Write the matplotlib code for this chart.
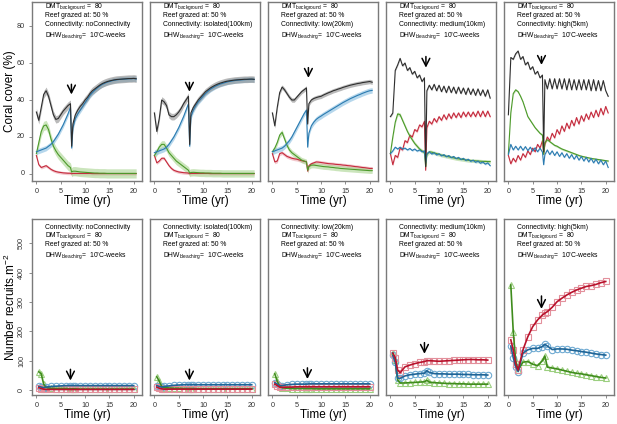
import matplotlib
matplotlib.use("Agg")
import matplotlib.pyplot as plt

plt.rcParams['font.family'] = ['Liberation Sans', 'DejaVu Sans']
plt.rcParams['mathtext.default'] = 'regular'

# time steps (yr) of the coral cover runs
t_top = [0, 0.5, 1, 1.5, 2, 2.5, 3, 3.5, 4, 4.5, 5, 5.5, 6, 6.5, 7, 7.25, 7.5,
         8, 8.5, 9, 9.5, 10, 10.5, 11, 11.5, 12, 12.5, 13, 13.5, 14, 14.5,
         15, 15.5, 16, 16.5, 17, 17.5, 18, 18.5, 19, 19.5, 20, 20.5]

# time steps (yr) of the recruit counts
t_bot = [0.5, 1, 1.5, 2, 3, 4, 5, 6, 7, 7.5, 8, 9, 10, 11, 12, 13, 14, 15,
         16, 17, 18, 19, 20]

connectivity = ['noConnectivity', 'isolated(100km)', 'low(20km)',
                'medium(10km)', 'high(5km)']

# ---- coral cover (%) : total, blue, green, red ----
p1_total = [33.5, 29, 36, 43, 45, 42, 37, 32, 29.5, 30, 32, 34, 35.5, 37, 38, 15, 27,
            32, 34.5, 36.5, 38, 40, 41.5, 43.5, 45, 46, 47, 48, 48.8, 49.4, 49.9,
            50.3, 50.6, 50.9, 51.1, 51.2, 51.3, 51.4, 51.5, 51.6, 51.6, 51.7, 51.5]
p1_blue = [12, 12.5, 13, 13.5, 14, 15, 16, 17.5, 19.5, 21.5, 24, 26.5, 29.5, 32.5, 36, 14, 25,
           30, 32.5, 34.5, 36.5, 38.5, 40.5, 42.5, 44, 45.3, 46.5, 47.5, 48.4, 49, 49.6,
           50, 50.4, 50.7, 50.9, 51.1, 51.2, 51.3, 51.4, 51.5, 51.5, 51.6, 51.4]
p1_green = [11, 17, 23, 26, 26.5, 24, 19, 15, 12.5, 10.5, 9, 7.5, 6, 4.5, 3.5, 1, 1.5,
            1.5, 1.3, 1.1, 1, 0.9, 0.8, 0.7, 0.6, 0.5, 0.5, 0.4, 0.4, 0.4, 0.3,
            0.3, 0.3, 0.3, 0.3, 0.3, 0.3, 0.3, 0.3, 0.3, 0.3, 0.3, 0.3]
p1_red = [10, 5, 3.5, 4, 4.5, 3.5, 2.5, 1.8, 1.3, 1, 0.8, 0.6, 0.5, 0.4, 0.4, 0.1, 0.3,
          0.3, 0.3, 0.3, 0.3, 0.3, 0.3, 0.3, 0.2, 0.2, 0.2, 0.2, 0.2, 0.2, 0.2,
          0.2, 0.2, 0.2, 0.2, 0.2, 0.2, 0.2, 0.2, 0.2, 0.2, 0.2, 0.2]

p2_total = [33, 23, 30, 40, 39, 37, 32, 31, 31, 32, 33.5, 35.5, 38, 40, 42, 16, 33,
            36, 38, 40, 41.5, 43, 44.5, 45.5, 46.5, 47.3, 48, 48.6, 49.1, 49.5, 49.9,
            50.2, 50.4, 50.6, 50.8, 50.9, 51, 51.1, 51.2, 51.2, 51.3, 51.3, 51.2]
p2_blue = [11.5, 12, 12.5, 13, 13.5, 14.5, 16, 18, 20, 22.5, 25, 28, 31, 34.5, 38, 15, 31,
           34.5, 37, 39, 40.5, 42, 43.5, 44.7, 45.8, 46.6, 47.4, 48, 48.6, 49, 49.4,
           49.8, 50.1, 50.3, 50.5, 50.7, 50.8, 50.9, 51, 51.1, 51.1, 51.2, 51.1]
p2_green = [10, 12, 14.5, 16, 16, 14, 11.5, 10, 8.5, 7, 6, 5, 4, 3, 2, 0.5, 0.8,
            0.9, 0.8, 0.7, 0.6, 0.6, 0.5, 0.5, 0.5, 0.4, 0.4, 0.4, 0.4, 0.3, 0.3,
            0.3, 0.3, 0.3, 0.3, 0.3, 0.3, 0.3, 0.3, 0.3, 0.3, 0.3, 0.3]
p2_red = [10, 6, 7, 8.5, 8.5, 6.5, 4.5, 3, 2, 1.5, 1.1, 0.9, 0.7, 0.6, 0.5, 0.1, 0.3,
          0.3, 0.3, 0.3, 0.3, 0.3, 0.3, 0.3, 0.2, 0.2, 0.2, 0.2, 0.2, 0.2, 0.2,
          0.2, 0.2, 0.2, 0.2, 0.2, 0.2, 0.2, 0.2, 0.2, 0.2, 0.2, 0.2]

p3_total = [33, 26, 36, 44, 47, 45.5, 43.5, 41.5, 40, 40, 41.5, 43, 44.5, 45.5, 46.5, 27, 38,
            40, 40.8, 41.3, 41.7, 42, 42.7, 43.3, 43.9, 44.4, 45, 45.4, 45.9, 46.3, 46.8,
            47.2, 47.6, 48, 48.3, 48.6, 48.9, 49.1, 49.4, 49.6, 49.8, 50, 49.6]
p3_blue = [12, 12.5, 13, 13.5, 14, 15, 16.5, 18, 20, 22.5, 25, 27.5, 30, 32.5, 34.5, 14.5, 22,
           26, 28, 29.5, 30.5, 31.3, 32.2, 33, 33.8, 34.6, 35.4, 36.2, 37, 37.8, 38.6,
           39.3, 40, 40.7, 41.3, 41.9, 42.5, 43, 43.6, 44.1, 44.6, 45, 45.2]
p3_green = [12, 14, 17, 21, 22.5, 19, 15.5, 13, 11.5, 10.5, 9.5, 8.5, 7.5, 7, 6.5, 2, 4,
            4.8, 4.8, 4.6, 4.4, 4.2, 4, 3.9, 3.8, 3.6, 3.5, 3.3, 3.2, 3, 2.9,
            2.8, 2.7, 2.6, 2.5, 2.4, 2.3, 2.2, 2.1, 2, 1.9, 1.8, 1.8]
p3_red = [11, 6.5, 7, 11, 11.5, 10.5, 9.5, 9, 8.5, 8.2, 8, 7.6, 7.2, 6.9, 6.6, 1.5, 4.5,
          5.5, 6, 6.5, 6.4, 6.2, 6, 5.8, 5.6, 5.5, 5.4, 5.2, 5.1, 5, 4.8,
          4.7, 4.5, 4.4, 4.2, 4, 3.9, 3.7, 3.5, 3.4, 3.2, 3, 3]

p4_total = [31, 33, 56, 59, 62.5, 58.5, 60, 56, 57.5, 54, 55.5, 52, 53.5, 50, 52, 4, 45,
            48, 45.5, 48.5, 45, 48, 44.5, 47.5, 44, 47.5, 44, 47, 43.5, 47, 43.5,
            46.5, 43, 46.5, 43, 46, 42.5, 46, 42.5, 45.5, 42, 45.5, 41]
p4_blue = [11, 12.5, 14.5, 13.5, 14.5, 13.5, 14, 13, 13.8, 12.7, 13.5, 12.4, 13, 12, 12.5, 6, 11,
           12, 10.8, 11.5, 10.3, 11, 9.8, 10.5, 9.3, 10, 8.8, 9.5, 8.3, 9, 7.8,
           8.5, 7.3, 8, 6.8, 7.5, 6.3, 7, 5.8, 6.5, 5.3, 6, 4.5]
p4_green = [11, 20, 28, 32.5, 32, 29, 26, 23, 20.5, 18.5, 16.5, 15, 13.5, 12.5, 11.5, 4, 10.5,
            12, 11.8, 11.4, 11, 10.6, 10.2, 9.9, 9.6, 9.3, 9, 8.7, 8.4, 8.2, 8,
            7.8, 7.6, 7.4, 7.3, 7.2, 7.1, 7, 6.9, 6.8, 6.8, 6.7, 6.7]
p4_red = [11, 5, 10, 9, 14, 13, 18, 17, 21, 20, 24, 23, 26.5, 25.5, 28.5, 2, 25,
          28.5, 27, 30, 28, 31, 29, 32, 29.5, 32.5, 30, 33, 30.5, 33, 30.5,
          33.5, 31, 33.5, 31, 33.5, 31, 34, 31, 34, 31, 34, 31]

p5_total = [32, 63, 62, 65, 66.5, 62, 63.5, 59, 60.5, 56.5, 58, 54, 55.5, 52, 53.5, 12, 51,
            46, 51.5, 46, 51.5, 46, 51.5, 46, 51.5, 45.5, 51.5, 45.5, 51, 45.5, 51,
            45.5, 51, 45.5, 51, 45, 51, 45, 50.5, 45, 50.5, 45, 42]
p5_blue = [10.5, 16, 13, 15, 13, 15, 12.8, 14.8, 12.6, 14.5, 12.4, 14.2, 12, 14, 11.8, 5, 10.5,
           13, 10.5, 12.5, 10, 12, 9.5, 11.5, 9, 11, 8.5, 10.5, 8, 10, 7.5,
           9.5, 7, 9, 6.5, 8.5, 6, 8, 5.5, 7.5, 5, 7, 3.5]
p5_green = [11, 33, 43.5, 45.5, 44.5, 42, 39, 35, 31, 29, 27, 25, 23.5, 22, 21, 10.5, 17,
            18.5, 17.5, 16.5, 15.5, 15, 14.2, 13.5, 13, 12.5, 12, 11.5, 11, 10.5, 10,
            9.6, 9.3, 9, 8.7, 8.4, 8.2, 8, 7.8, 7.6, 7.4, 7.2, 7]
p5_red = [10, 5.5, 8.5, 6.5, 10, 7.5, 11, 9, 12.5, 10.5, 14, 12, 16, 14, 18, 11, 16,
          20, 18, 22, 19.5, 24, 21.5, 26, 23, 27.5, 24.5, 29, 26, 30.5, 27,
          31.5, 28.5, 32.5, 29.5, 33.5, 30.5, 34.5, 31, 35.5, 32, 36.5, 33]

# half-width of the shaded band, per panel: total, blue, green, red
band_sd = [[2.0, 1.5, 2.5, 0.8],
           [1.8, 1.5, 2.0, 0.8],
           [1.2, 1.5, 1.5, 1.0],
           [0.5, 0.5, 1.0, 0.8],
           [0.4, 0.4, 0.6, 0.6]]

# ---- recruits per m2 : green, blue, red ----
r1_green = [62, 55, 20, 8, 6, 5, 5, 5, 4, 4, 4, 3, 3, 3, 3, 3, 3, 3, 3, 3, 3, 3, 3]
r1_blue = [12, 10, 8, 10, 12, 13, 14, 15, 15, 15, 15, 15, 15, 15, 15, 15, 15, 15, 15, 15, 15, 15, 15]
r1_red = [8, 5, 3, 2, 2, 2, 2, 2, 2, 2, 2, 2, 2, 2, 2, 2, 2, 2, 2, 2, 2, 2, 2]

r2_green = [45, 30, 12, 8, 7, 6, 6, 5, 5, 5, 5, 4, 4, 4, 4, 4, 4, 4, 4, 4, 4, 4, 4]
r2_blue = [15, 12, 10, 12, 14, 16, 17, 18, 18, 18, 18, 18, 18, 18, 18, 18, 18, 18, 18, 18, 18, 18, 18]
r2_red = [10, 6, 4, 3, 3, 3, 3, 3, 3, 3, 3, 3, 3, 3, 3, 3, 3, 3, 3, 3, 3, 3, 3]

r3_green = [55, 30, 12, 8, 6, 5, 5, 5, 5, 5, 5, 4, 4, 4, 4, 4, 4, 4, 4, 4, 4, 4, 4]
r3_blue = [25, 20, 15, 15, 18, 19, 20, 20, 20, 21, 21, 21, 21, 21, 21, 21, 21, 21, 21, 21, 21, 21, 21]
r3_red = [20, 15, 10, 9, 10, 10, 11, 11, 11, 11, 11, 11, 11, 11, 11, 11, 11, 11, 11, 11, 11, 11, 11]

r4_green = [125, 102, 34, 24, 24, 25, 26, 27, 28, 33, 27, 25, 24, 23, 22, 22, 21, 21, 20, 20, 20, 20, 20]
r4_blue = [118, 95, 40, 40, 48, 52, 54, 56, 57, 66, 60, 56, 55, 55, 54, 54, 54, 53, 53, 52, 52, 52, 51]
r4_red = [126, 110, 68, 59, 79, 85, 90, 94, 97, 100, 100, 99, 98, 99, 100, 101, 102, 103, 104, 104, 103, 103, 102]

r5_green = [358, 199, 100, 68, 95, 97, 88, 83, 100, 116, 78, 75, 72, 68, 64, 60, 57, 55, 52, 49, 46, 43, 41]
r5_blue = [150, 110, 80, 63, 126, 137, 142, 142, 148, 156, 150, 138, 140, 140, 139, 136, 134, 131, 129, 126, 123, 121, 119]
r5_red = [171, 137, 90, 68, 137, 182, 216, 239, 256, 262, 267, 282, 301, 313, 324, 333, 341, 347, 353, 356, 360, 366, 370]

# arrows (x, tail, head) for each panel
arrows_top = [(7.2, 50, 41.5), (7.2, 51, 43), (7.4, 59, 50.5), (7.3, 65, 56), (6.8, 65, 57.5)]
arrows_bot = [(7.0, 80, 23), (7.2, 80, 23), (7.2, 85, 28), (7.0, 171, 114), (6.8, 330, 267)]

cover = [(p1_total, p1_blue, p1_green, p1_red),
         (p2_total, p2_blue, p2_green, p2_red),
         (p3_total, p3_blue, p3_green, p3_red),
         (p4_total, p4_blue, p4_green, p4_red),
         (p5_total, p5_blue, p5_green, p5_red)]
recruits = [(r1_green, r1_blue, r1_red), (r2_green, r2_blue, r2_red),
            (r3_green, r3_blue, r3_red), (r4_green, r4_blue, r4_red),
            (r5_green, r5_blue, r5_red)]

line_cols = ['#2e2e2e', '#2b7bb0', '#4c9a2a', '#c42a3c']
band_cols = ['#8c8c8c', '#86bde0', '#a9d490', '#eba3ad']
light_cols = ['#9ccf80', '#6faad2', '#e3909c']   # green, blue, red markers
dark_cols = ['#3f8c1c', '#1f6496', '#b8122c']
markers = ['^', 'o', 's']
frame_col = '#7a7a7a'

W, H = 617, 424
fig = plt.figure(figsize=(W / 100, H / 100), dpi=100)
lefts = [32, 150, 268, 386, 504]
pw = 110

dmt = r'DMT$_{background}$ =  80'
graze = 'Reef grazed at: 50 %'
dhw = r'DHW$_{bleaching}$=  10$^{\circ}$C-weeks'
fs = 4.9


def style(ax, first, rot):
    for s in ax.spines.values():
        s.set_color(frame_col)
        s.set_linewidth(1.0)
    ax.set_xticks([0, 5, 10, 15, 20])
    ax.tick_params(colors='#333333', labelsize=5.2, length=2.5, width=0.6, pad=2.5)
    ax.tick_params(axis='both', color=frame_col)
    if first:
        for lab in ax.get_yticklabels():
            lab.set_rotation(rot)
            lab.set_va('center')
    else:
        ax.set_yticks([])
    ax.set_xlabel('Time (yr)', fontsize=8.5, labelpad=0)


def arrow(ax, spec):
    x, y0, y1 = spec
    ax.annotate('', xy=(x, y1), xytext=(x, y0),
                arrowprops=dict(arrowstyle='->,head_length=0.55,head_width=0.28',
                                color='black', lw=1.1))


for i in range(5):
    # top row: coral cover
    ax = fig.add_axes([lefts[i] / W, (H - 181) / H, pw / W, 179 / H])
    series = cover[i]
    for k in [3, 2, 1, 0]:
        y = series[k]
        sd = band_sd[i][k]
        ax.fill_between(t_top, [v - sd for v in y], [v + sd for v in y],
                        color=band_cols[k], alpha=0.6, lw=0)
        ax.plot(t_top, y, color=line_cols[k], lw=0.8)
    ax.set_xlim(-0.9, 21.7)
    ax.set_ylim(-3.8, 93)
    ax.set_yticks([0, 20, 40, 60, 80])
    style(ax, i == 0, 0)
    ax.text(0.115, 0.972, dmt, transform=ax.transAxes, fontsize=fs, va='center')
    ax.text(0.115, 0.923, graze, transform=ax.transAxes, fontsize=fs, va='center')
    ax.text(0.115, 0.876, 'Connectivity: ' + connectivity[i], transform=ax.transAxes,
            fontsize=fs, va='center')
    ax.text(0.115, 0.806, dhw, transform=ax.transAxes, fontsize=fs, va='center')
    arrow(ax, arrows_top[i])

    # bottom row: recruits
    bx = fig.add_axes([lefts[i] / W, (H - 395) / H, pw / W, 176 / H])
    rs = recruits[i]
    for k in range(3):
        bx.plot(t_bot, rs[k], ls='none', marker=markers[k], mfc='none',
                mec=light_cols[k], ms=4.6, mew=0.8)
    for k in range(3):
        bx.plot(t_bot, rs[k], color=dark_cols[k], lw=1.2)
    bx.set_xlim(-0.9, 21.7)
    bx.set_ylim(-17, 583)
    bx.set_yticks([0, 100, 200, 300, 400, 500])
    style(bx, i == 0, 90)
    bx.text(0.115, 0.953, 'Connectivity: ' + connectivity[i], transform=bx.transAxes,
            fontsize=fs, va='center')
    bx.text(0.115, 0.906, dmt, transform=bx.transAxes, fontsize=fs, va='center')
    bx.text(0.115, 0.856, graze, transform=bx.transAxes, fontsize=fs, va='center')
    bx.text(0.115, 0.788, dhw, transform=bx.transAxes, fontsize=fs, va='center')
    arrow(bx, arrows_bot[i])

fig.text(10 / W, 1 - 91.5 / H, 'Coral cover (%)', rotation=90, fontsize=8.5,
         ha='center', va='center')
fig.text(10 / W, 1 - 307 / H, r'Number recruits.m$^{-2}$', rotation=90,
         fontsize=8.5, ha='center', va='center')

fig.savefig('out.png', dpi=100)
